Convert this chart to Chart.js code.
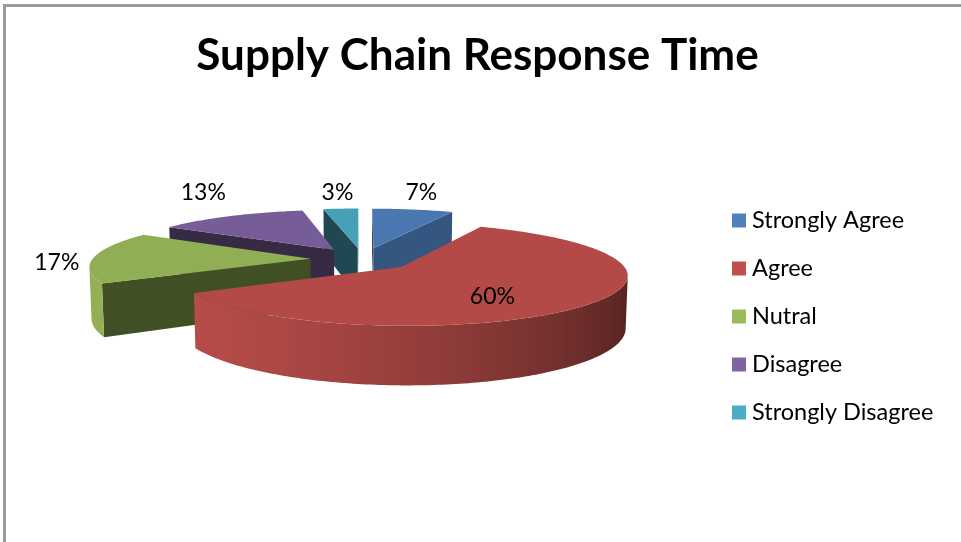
<!DOCTYPE html>
<html>
<head>
<meta charset="utf-8">
<title>Supply Chain Response Time</title>
<script src="https://cdn.jsdelivr.net/npm/chart.js@4.4.1/dist/chart.umd.min.js"></script>
<style>
  html, body { margin: 0; padding: 0; background: #fff; }
  #wrap { position: relative; width: 961px; height: 542px; overflow: hidden; }
  #frame { position: absolute; left: 3px; top: 4px; width: 1200px; height: 800px;
           border-left: 3px solid #9b9b9b; border-top: 3px solid #9b9b9b; }
  canvas { position: absolute; left: 0; top: 0; }
</style>
</head>
<body>
<div id="wrap">
  <div id="frame"></div>
  <canvas id="chart" width="961" height="542"></canvas>
</div>
<script>
// Survey answers (share of respondents, %)
const categories = ['Strongly Agree', 'Agree', 'Nutral', 'Disagree', 'Strongly Disagree'];
const shares = [7, 60, 17, 13, 3];
const sliceColors = ['#4F81BD', '#C0504D', '#9BBB59', '#8064A2', '#4BACC6'];

// Camera used to turn the flat pie into a tilted, exploded 3-D pie
const TILT = Math.asin(0.22);     // elevation of the eye above the pie plane
const VIEW_DISTANCE = 1500;       // perspective distance (px)
const THICKNESS = 52;             // height of the pie body (px)
const LABEL_FONT = '23px Lato';
const LEGEND_FONT_SIZE = 23.5;
const LEGEND_ROW = 48;            // distance between legend rows
const LEGEND_SWATCH = 14;         // visible size of a legend square
const LEGEND_TEXT_GAP = 20;       // from the left of the square to the text

function shadeColor(hex, k) {
  const n = parseInt(hex.slice(1), 16);
  const c = v => Math.max(0, Math.min(255, Math.round(v * k)));
  return `rgb(${c((n >> 16) & 255)},${c((n >> 8) & 255)},${c(n & 255)})`;
}
// light falls from the left: walls turning right get darker
const wallShade = (nx, nz) => 0.66 - 0.26 * nx - 0.12 * nz;
const cutShade = nx => 0.42 + 0.62 * Math.max(0, nx - 0.5);
const TOP_SHADE = 0.93;

const pie3d = {
  id: 'pie3d',
  beforeDatasetsDraw(chart) {
    const ctx = chart.ctx;
    const meta = chart.getDatasetMeta(0);
    const arcs = meta.data;
    if (!arcs.length) return false;
    const values = chart.data.datasets[0].data;
    const cx = arcs[0].x, cy = arcs[0].y;
    const sa = Math.sin(TILT), ca = Math.cos(TILT);
    const cam = [0, VIEW_DISTANCE * sa, -VIEW_DISTANCE * ca];
    const project = w => {
      const s = VIEW_DISTANCE / (VIEW_DISTANCE + w[2] * ca - w[1] * sa);
      return [cx + w[0] * s, cy - (w[2] * sa + w[1] * ca) * s];
    };
    const facing = (n, p) =>
      n[0] * (cam[0] - p[0]) + n[1] * (cam[1] - p[1]) + n[2] * (cam[2] - p[2]) > 0;
    const fillPoly = (pts, style) => {
      ctx.beginPath();
      pts.forEach((p, i) => (i ? ctx.lineTo(p[0], p[1]) : ctx.moveTo(p[0], p[1])));
      ctx.closePath();
      ctx.fillStyle = style;
      ctx.fill();
    };

    // one solid per arc, using the arc's own angles, radius and offset
    const solids = arcs.map((arc, i) => {
      const a0 = arc.startAngle, a1 = arc.endAngle, mid = (a0 + a1) / 2;
      const off = arc.options.offset || 0;
      const R = arc.outerRadius;
      const ox = Math.cos(mid) * off, oz = -Math.sin(mid) * off;
      const world = (a, r, y) => [ox + r * Math.cos(a), y, oz - r * Math.sin(a)];
      const depth = oz - 0.5 * R * Math.sin(mid);
      return { i, a0, a1, mid, R, world, depth, color: arc.options.backgroundColor };
    }).sort((p, q) => q.depth - p.depth);

    let pieTop = Infinity;
    ctx.save();
    for (const sl of solids) {
      const { a0, a1, R, world, color } = sl;
      const steps = Math.max(2, Math.ceil((a1 - a0) / (Math.PI / 180)));
      const angles = [];
      for (let k = 0; k <= steps; k++) angles.push(a0 + (a1 - a0) * k / steps);
      const apexT = world(0, 0, 0), apexB = world(0, 0, -THICKNESS);

      // radial cut faces
      [[a0, 1], [a1, -1]].forEach(([a, sgn]) => {
        const n = [sgn * Math.sin(a), 0, sgn * Math.cos(a)];
        if (!facing(n, world(a, R / 2, -THICKNESS / 2))) return;
        fillPoly([project(apexT), project(world(a, R, 0)), project(world(a, R, -THICKNESS)), project(apexB)],
                 shadeColor(color, cutShade(n[0])));
      });

      // curved outer wall, only the strips that face the eye
      const runs = [];
      let run = null;
      for (let k = 0; k < steps; k++) {
        const am = (angles[k] + angles[k + 1]) / 2;
        const n = [Math.cos(am), 0, -Math.sin(am)];
        if (facing(n, world(am, R, -THICKNESS / 2))) {
          if (!run) { run = [angles[k]]; runs.push(run); }
          run.push(angles[k + 1]);
        } else run = null;
      }
      runs.forEach(r => {
        const top = r.map(a => project(world(a, R, 0)));
        const bot = r.map(a => project(world(a, R, -THICKNESS))).reverse();
        const xs = top.concat(bot).map(p => p[0]);
        const xmin = Math.min(...xs), xmax = Math.max(...xs);
        let style;
        if (xmax - xmin < 1) {
          const a = r[0];
          style = shadeColor(color, wallShade(Math.cos(a), -Math.sin(a)));
        } else {
          style = ctx.createLinearGradient(xmin, 0, xmax, 0);
          r.forEach((a, j) => {
            const t = Math.max(0, Math.min(1, (top[j][0] - xmin) / (xmax - xmin)));
            style.addColorStop(t, shadeColor(color, wallShade(Math.cos(a), -Math.sin(a))));
          });
        }
        fillPoly(top.concat(bot), style);
      });

      // top face
      const rim = angles.map(a => project(world(a, R, 0)));
      rim.forEach(p => { pieTop = Math.min(pieTop, p[1]); });
      fillPoly([project(apexT)].concat(rim), shadeColor(color, TOP_SHADE));
    }

    // percentage labels: big slices inside, small ones pushed out past the rim
    ctx.font = LABEL_FONT;
    ctx.fillStyle = '#000';
    ctx.textAlign = 'center';
    ctx.textBaseline = 'middle';
    const hh = 11.5;
    solids.forEach(sl => {
      const text = values[sl.i] + '%';
      let p;
      if (values[sl.i] >= 25) {
        p = project(sl.world(sl.mid, 0.52 * sl.R, -0.2 * THICKNESS));
      } else {
        const anchor = project(sl.world(sl.mid, sl.R, 0));
        let dx = 1.5 * Math.cos(sl.mid), dy = Math.sin(sl.mid);
        const len = Math.hypot(dx, dy);
        dx /= len; dy /= len;
        const hw = ctx.measureText(text).width / 2;
        const dist = 10 + 1.2 * Math.abs(dx) * hw + Math.abs(dy) * hh;
        p = [anchor[0] + dx * dist, anchor[1] + dy * dist + 6 * dx ** 4];
        // labels stay inside the plot band just above the pie
        p[1] = Math.max(p[1], pieTop - hh - 4);
      }
      ctx.fillText(text, p[0], p[1]);
    });
    ctx.restore();
    return false; // the flat arcs are replaced by the solid drawn above
  }
};

// legend swatch: a tiny box widened by its own outline, so the text sits close to it
const swatchLine = 2 * (LEGEND_SWATCH - LEGEND_TEXT_GAP + LEGEND_FONT_SIZE / 2);
const swatchBox = LEGEND_SWATCH - swatchLine;

// room for the legend column on the right
const meas = document.createElement('canvas').getContext('2d');
meas.font = `normal ${LEGEND_FONT_SIZE}px Lato`;
const longest = Math.max(...categories.map(c => meas.measureText(c).width));
const rightPad = 199 - longest;

new Chart(document.getElementById('chart'), {
  type: 'pie',
  data: {
    labels: categories,
    datasets: [{
      data: shares,
      backgroundColor: sliceColors,
      borderWidth: 0,
      offset: 52,
      radius: 218
    }]
  },
  options: {
    responsive: false,
    animation: false,
    events: [],
    layout: { padding: { left: 11.75, right: rightPad, top: 0, bottom: 93.25 } },
    plugins: {
      title: {
        display: true,
        text: 'Supply Chain Response Time',
        color: '#000',
        font: { family: 'Lato', size: 44, weight: 'bold', lineHeight: 0.5 },
        padding: { top: 45.3, bottom: 1.95 }
      },
      legend: {
        position: 'right',
        align: 'end',
        labels: {
          color: '#000',
          font: { family: 'Lato', size: LEGEND_FONT_SIZE },
          boxWidth: swatchBox,
          boxHeight: swatchBox,
          padding: LEGEND_ROW - LEGEND_FONT_SIZE,
          generateLabels(chart) {
            const items = Chart.overrides.doughnut.plugins.legend.labels.generateLabels(chart);
            return items.map(it => Object.assign(it, { strokeStyle: it.fillStyle, lineWidth: swatchLine }));
          }
        }
      },
      tooltip: { enabled: false }
    }
  },
  plugins: [pie3d]
});
</script>
</body>
</html>
